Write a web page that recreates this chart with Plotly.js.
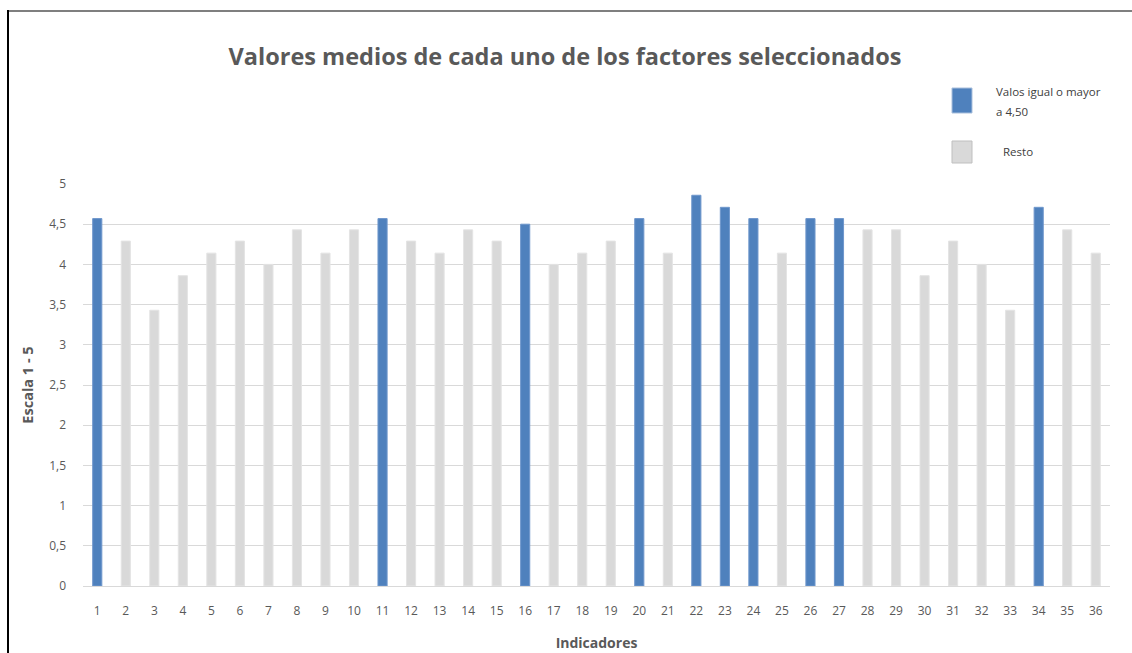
<!DOCTYPE html>
<html>
<head>
<meta charset="utf-8">
<script src="https://cdn.plot.ly/plotly-3.0.1.min.js"></script>
<style>
html,body{margin:0;padding:0;background:#fff;}
#chart{position:absolute;left:0;top:0;width:1132px;height:653px;}
#btop{position:absolute;left:7px;top:10px;width:1125px;height:0;border-top:2px solid #7f7f7f;pointer-events:none;}
#bleft{position:absolute;left:7px;top:10px;width:0;height:643px;border-left:2px solid #000;pointer-events:none;}
</style>
</head>
<body>
<div id="chart"></div>
<div id="btop"></div>
<div id="bleft"></div>
<script>
const indicadores = ['1','2','3','4','5','6','7','8','9','10','11','12','13','14','15','16','17','18','19','20','21','22','23','24','25','26','27','28','29','30','31','32','33','34','35','36'];
const valores = [4.57,4.29,3.43,3.86,4.14,4.29,4.00,4.43,4.14,4.43,4.57,4.29,4.14,4.43,4.29,4.50,4.00,4.14,4.29,4.57,4.14,4.86,4.71,4.57,4.14,4.57,4.57,4.43,4.43,3.86,4.29,4.00,3.43,4.71,4.43,4.14];
const umbral = 4.5;
const yTicks = [0,0.5,1,1.5,2,2.5,3,3.5,4,4.5,5];
const yTickText = ['0','0,5','1','1,5','2','2,5','3','3,5','4','4,5','5'];
const colorAlto = '#4f81bd';
const colorResto = '#d9d9d9';

const W = 1132, H = 653;
const ML = 83, MR = 22, MT = 184, MB = 67;
const PW = W - ML - MR, PH = H - MT - MB;
const px = x => (x - ML) / PW;
const py = y => (H - MB - y) / PH;

const colores = valores.map(v => v >= umbral ? colorAlto : colorResto);
const lineas = valores.map(v => v >= umbral ? '#6f97cc' : '#e4e4e4');

const trace = {
  type: 'bar',
  x: indicadores,
  y: valores,
  width: 0.32,
  marker: {color: colores, line: {color: lineas, width: 1}},
  hoverinfo: 'x+y',
  showlegend: false
};

const font = 'Open Sans, Liberation Sans, sans-serif';
const legFont = {family: font, size: 11.5, color: '#404040'};
const layout = {
  width: W, height: H,
  margin: {l: ML, r: MR, t: MT, b: MB, pad: 0},
  paper_bgcolor: '#ffffff',
  plot_bgcolor: '#ffffff',
  separators: ',.',
  showlegend: false,
  title: {
    text: '<b>Valores medios de cada uno de los factores seleccionados</b>',
    font: {family: font, size: 23.5, color: '#595959'},
    x: 565 / W, xanchor: 'center', xref: 'container',
    y: 1 - 57 / H, yanchor: 'middle', yref: 'container'
  },
  xaxis: {
    type: 'category',
    range: [-0.5, 35.5],
    showgrid: false,
    zeroline: false,
    showline: false,
    ticks: '',
    tickfont: {family: font, size: 12, color: '#595959'},
    ticklabelstandoff: 16,
    title: {text: '<b>Indicadores</b>', font: {family: font, size: 14, color: '#595959'}, standoff: 20}
  },
  yaxis: {
    range: [0, 5],
    tickvals: yTicks,
    ticktext: yTickText,
    showgrid: true,
    gridcolor: '#d9d9d9',
    gridwidth: 1,
    zeroline: true,
    zerolinecolor: '#d9d9d9',
    zerolinewidth: 1,
    showline: false,
    ticks: '',
    tickfont: {family: font, size: 12, color: '#595959'},
    ticklabelstandoff: 16,
    title: {text: '<b>Escala 1 - 5</b>', font: {family: font, size: 14.5, color: '#595959'}, standoff: 12}
  },
  shapes: [
    {type: 'rect', xref: 'paper', yref: 'paper', x0: px(952), x1: px(972), y0: py(113), y1: py(88),
     fillcolor: colorAlto, line: {color: '#a9bfdc', width: 1}},
    {type: 'rect', xref: 'paper', yref: 'paper', x0: px(952), x1: px(972), y0: py(163), y1: py(141),
     fillcolor: colorResto, line: {color: '#bfbfbf', width: 1}}
  ],
  annotations: [
    {xref: 'paper', yref: 'paper', x: px(994), y: py(91), xanchor: 'left', yanchor: 'middle', align: 'left',
     text: 'Valos igual o mayor', showarrow: false, font: legFont},
    {xref: 'paper', yref: 'paper', x: px(994), y: py(112), xanchor: 'left', yanchor: 'middle', align: 'left',
     text: 'a 4,50', showarrow: false, font: legFont},
    {xref: 'paper', yref: 'paper', x: px(1001), y: py(151), xanchor: 'left', yanchor: 'middle', align: 'left',
     text: 'Resto', showarrow: false, font: legFont}
  ]
};

Plotly.newPlot('chart', [trace], layout, {displayModeBar: false, responsive: false});
</script>
</body>
</html>
